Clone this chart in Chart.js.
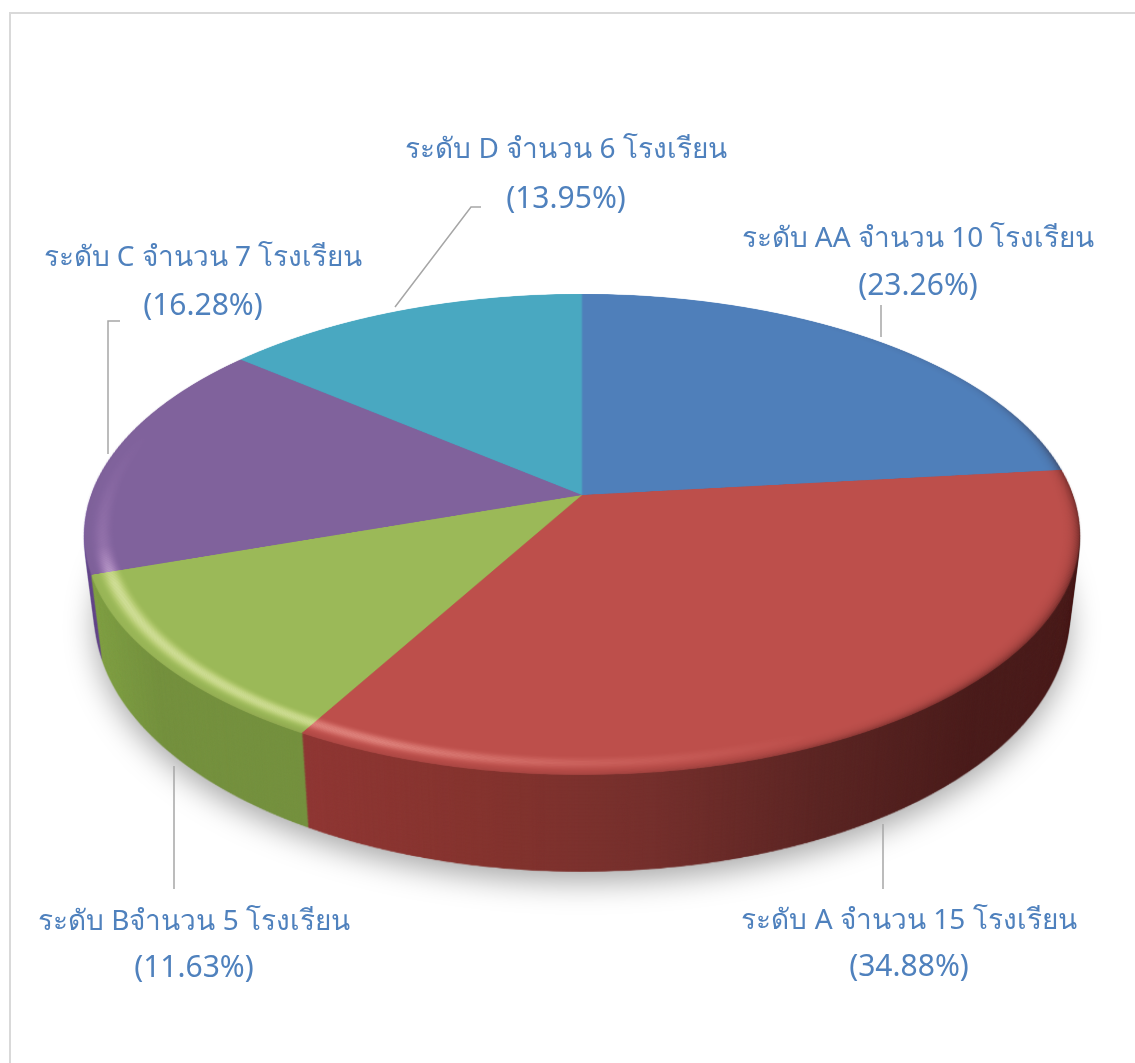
<!DOCTYPE html>
<html lang="th">
<head>
<meta charset="UTF-8" />
<title>ระดับโรงเรียน</title>
<script src="https://cdn.jsdelivr.net/npm/chart.js"></script>
<style>
  html, body { margin: 0; padding: 0; background: #fff; overflow: hidden; }
  #frame { position: absolute; left: 9px; top: 12px; width: 1200px; height: 1100px; box-sizing: border-box;
           border-left: 2px solid #d9d9d9; border-top: 2px solid #d9d9d9; }
  #grafico { position: absolute; left: 0; top: 0; }
</style>
</head>
<body>
<div id="frame"></div>
<canvas id="grafico" width="1135" height="1063"></canvas>
<script>
// data
const categories = ['ระดับ AA', 'ระดับ A', 'ระดับ B', 'ระดับ C', 'ระดับ D'];
const schoolCounts = [10, 15, 5, 7, 6];
const labelLines = [
  'ระดับ AA จำนวน 10 โรงเรียน',
  'ระดับ A จำนวน 15 โรงเรียน',
  'ระดับ Bจำนวน 5 โรงเรียน',
  'ระดับ C จำนวน 7 โรงเรียน',
  'ระดับ D จำนวน 6 โรงเรียน'
];
const percentLines = ['(23.26%)', '(34.88%)', '(11.63%)', '(16.28%)', '(13.95%)'];

// styles
const topColors = ['#4f7fba', '#bd4f4b', '#9bb958', '#80629c', '#49a8c1'];
// side wall colours, left to right across the pie
const wallColors = [
  ['#3a5f8c', '#3a5f8c'],
  ['#8f3734', '#85342f', '#75302d', '#5c2624', '#4b1d1c', '#4b1d1c'],
  ['#86a648', '#7d9c43', '#75913f', '#75913f', '#75913f', '#75913f'],
  ['#7a5cae', '#66498c', '#66498c'],
  ['#367e90', '#367e90']
];

// label placement (centre x, first line y, second line y)
const labelPos = [[918, 239, 286], [909, 921, 967], [194, 922, 968], [203, 258, 306], [566, 150, 199]];
const leaders = [
  [[881, 305], [881, 337]],
  [[883, 824], [883, 889]],
  [[174, 766], [174, 889]],
  [[108, 454], [108, 321], [120, 321]],
  [[395, 307], [471, 207], [481, 207]]
];

// perspective of the pie on the page
const P = { cx: 582, cy: 495, A: 234, b: -0.1642, C: 491, top: 290, bottom: 780 };
const WALL = { steps: 70, sx: 0.978, sy: 1.06, dy: 80 };
const SS = 2; // oversampling of the flat pie

function makeCanvas(w, h) {
  const c = document.createElement('canvas');
  c.width = w; c.height = h;
  return c;
}

function warp(src, W, H, fx, fy, R, dst) {
  dst.imageSmoothingEnabled = true;
  dst.imageSmoothingQuality = 'high';
  const vAt = y => (y - P.cy) / (P.A - P.b * (y - P.cy));
  for (let y = P.top; y < P.bottom; y++) {
    const v0 = Math.max(-1.02, vAt(y)), v1 = Math.min(1.02, vAt(y + 1));
    if (v1 <= v0) continue;
    const k = (P.C / (1 + P.b * (v0 + v1) / 2)) / R;
    dst.drawImage(src, 0, (fy + v0 * R) * SS, W * SS, (v1 - v0) * R * SS, P.cx - k * fx, y, k * W, 1);
  }
}

function bevel(c, x, y, R) {
  // soft rim of the top face: highlight lower left, dark towards the right
  const glow = c.createConicGradient(0, x, y);
  [[0, 0], [0.18, 0], [0.25, 0.35], [0.31, 0.9], [0.44, 1], [0.465, 0.25], [0.51, 0.08], [0.55, 0], [1, 0]]
    .forEach(s => glow.addColorStop(s[0], `rgba(255,255,255,${s[1]})`));
  const dark = c.createConicGradient(0, x, y);
  [[0, 0.8], [0.12, 0.75], [0.25, 0.3], [0.4, 0.06], [0.6, 0], [0.82, 0], [0.92, 0.2], [1, 0.8]]
    .forEach(s => dark.addColorStop(s[0], `rgba(40,8,8,${s[1]})`));
  c.save();
  c.beginPath();
  c.arc(x, y, R, 0, Math.PI * 2);
  c.clip();
  const n = 30;
  for (let i = 0; i < n; i++) {
    const t = i / (n - 1);
    const r = R * (0.935 + 0.068 * t);
    c.lineWidth = R * 0.068 / n + 1;
    c.beginPath();
    c.arc(x, y, r, 0, Math.PI * 2);
    c.globalCompositeOperation = 'overlay';
    c.strokeStyle = glow;
    c.globalAlpha = Math.pow(Math.sin(Math.PI * Math.min(1, t / 0.85)), 3) * 0.34;
    c.stroke();
    c.globalCompositeOperation = 'source-atop';
    c.strokeStyle = dark;
    c.globalAlpha = Math.pow(t, 6) * 0.5;
    c.stroke();
  }
  c.restore();
}

const pie3d = {
  id: 'pie3d',
  beforeDatasetsDraw(chart) {
    const arcs = chart.getDatasetMeta(0).data;
    const W = chart.width, H = chart.height;
    const fx = arcs[0].x, fy = arcs[0].y, R = arcs[0].outerRadius;
    const ctx = chart.ctx;

    // flat faces, drawn by the chart's own arc elements
    const flatTop = makeCanvas(W * SS, H * SS), flatWall = makeCanvas(W * SS, H * SS);
    const ct = flatTop.getContext('2d'), cw = flatWall.getContext('2d');
    ct.scale(SS, SS); cw.scale(SS, SS);
    arcs.forEach(a => a.draw(ct));
    arcs.forEach((a, i) => {
      const g = cw.createLinearGradient(fx - R, 0, fx + R, 0);
      const range = { 1: [0.27, 1], 2: [0, 0.28], 3: [0, 0.04] }[i] || [0, 1];
      wallColors[i].forEach((col, j, all) => {
        g.addColorStop(range[0] + (range[1] - range[0]) * j / (all.length - 1), col);
      });
      const keep = a.options;
      a.options = Object.assign({}, keep, { backgroundColor: g, borderWidth: 0 });
      a.draw(cw);
      a.options = keep;
    });
    bevel(ct, fx, fy, R);

    // bend both faces into perspective
    const topLayer = makeCanvas(W, H), wallLayer = makeCanvas(W, H);
    warp(flatTop, W, H, fx, fy, R, topLayer.getContext('2d'));
    warp(flatWall, W, H, fx, fy, R, wallLayer.getContext('2d'));

    // sweep the wall downwards, furthest first, shadow under the lowest
    ctx.save();
    for (let k = WALL.steps; k >= 1; k--) {
      const t = k / WALL.steps;
      const sx = 1 + (WALL.sx - 1) * t, sy = 1 + (WALL.sy - 1) * t;
      if (k === WALL.steps) {
        ctx.shadowColor = 'rgba(0,0,0,0.34)';
        ctx.shadowBlur = 30;
        ctx.shadowOffsetY = 10;
      } else {
        ctx.shadowColor = 'transparent';
      }
      ctx.drawImage(wallLayer, P.cx - P.cx * sx, P.cy - P.cy * sy + WALL.dy * t, W * sx, H * sy);
    }
    ctx.restore();
    ctx.drawImage(topLayer, 0, 0);

    // leader lines and labels
    ctx.save();
    ctx.strokeStyle = '#a6a6a6';
    ctx.lineWidth = 1.5;
    leaders.forEach(line => {
      ctx.beginPath();
      line.forEach((p, i) => i ? ctx.lineTo(p[0], p[1]) : ctx.moveTo(p[0], p[1]));
      ctx.stroke();
    });
    ctx.fillStyle = '#4f81bd';
    ctx.textAlign = 'center';
    ctx.textBaseline = 'middle';
    labelLines.forEach((txt, i) => {
      ctx.font = '28px "Noto Sans", Tahoma, sans-serif';
      ctx.fillText(txt, labelPos[i][0], labelPos[i][1]);
      ctx.font = '30px "Noto Sans", Tahoma, sans-serif';
      ctx.fillText(percentLines[i], labelPos[i][0], labelPos[i][2]);
    });
    ctx.restore();
    return false;
  }
};

const chart = new Chart(document.getElementById('grafico').getContext('2d'), {
  type: 'pie',
  data: {
    labels: categories,
    datasets: [{ data: schoolCounts, backgroundColor: topColors, borderWidth: 0 }]
  },
  options: {
    responsive: false,
    animation: false,
    plugins: { legend: { display: false }, tooltip: { enabled: false } }
  },
  plugins: [pie3d]
});
</script>
</body>
</html>
